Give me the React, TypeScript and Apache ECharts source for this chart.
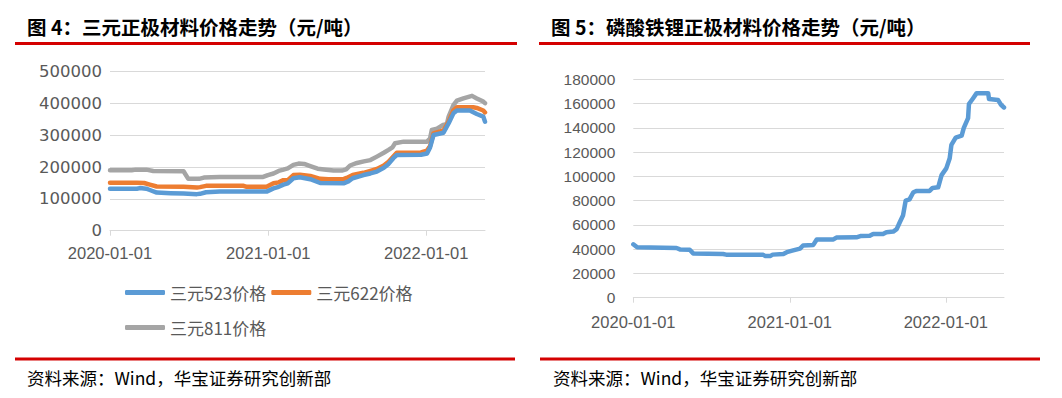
import React, { useEffect, useRef } from "react";
import * as echarts from "echarts";

// ---------- Data ----------
const yearTicks = ["2020-01-01", "2021-01-01", "2022-01-01"];
const axisMin = "2020-01-01";
const axisMax = "2022-05-17";

const leftTitle = "图 4：三元正极材料价格走势（元/吨）";
const rightTitle = "图 5：磷酸铁锂正极材料价格走势（元/吨）";
const sourceText = "资料来源：Wind，华宝证券研究创新部";

const seriesNames = ["三元523价格", "三元622价格", "三元811价格"];
const seriesColors = ["#5B9BD5", "#ED7D31", "#A5A5A5"];
const lfpColor = "#5B9BD5";

const ncm523Dates = [
  "2020-01-01", "2020-03-03", "2020-03-10", "2020-03-25", "2020-04-02", "2020-04-18", "2020-05-20",
  "2020-06-19", "2020-07-20", "2020-07-27", "2020-08-10", "2020-09-11", "2020-12-28", "2021-01-13",
  "2021-01-25", "2021-02-05", "2021-02-15", "2021-02-28", "2021-03-15", "2021-04-08", "2021-05-01",
  "2021-06-24", "2021-07-05", "2021-07-15", "2021-08-09", "2021-08-25", "2021-09-09", "2021-09-25",
  "2021-10-06", "2021-10-17", "2021-10-25", "2021-12-20", "2022-01-03", "2022-01-10", "2022-01-18",
  "2022-02-10", "2022-02-22", "2022-03-05", "2022-03-13", "2022-04-12", "2022-04-28", "2022-05-13",
  "2022-05-17",
];
const ncm523Values = [
  132000, 132000, 134000, 132000, 128000, 120000, 118000,
  117000, 115000, 116000, 121000, 123000, 123000, 133000,
  138000, 145000, 149000, 165000, 168000, 162000, 150000,
  149000, 155000, 165000, 175000, 180000, 186000, 198000,
  210000, 228000, 238000, 239000, 243000, 262000, 301000,
  308000, 338000, 369000, 378000, 378000, 367000, 359000,
  343000,
];

const ncm622Dates = [
  "2020-01-01", "2020-03-03", "2020-03-20", "2020-04-02", "2020-04-18", "2020-06-19", "2020-07-20",
  "2020-07-27", "2020-08-10", "2020-11-05", "2020-11-12", "2020-12-28", "2021-01-13", "2021-01-25",
  "2021-02-05", "2021-02-15", "2021-02-28", "2021-03-15", "2021-04-08", "2021-05-01", "2021-05-20",
  "2021-06-24", "2021-07-01", "2021-07-15", "2021-08-09", "2021-08-25", "2021-09-09", "2021-09-25",
  "2021-10-06", "2021-10-17", "2021-10-25", "2021-12-20", "2022-01-03", "2022-01-10", "2022-01-18",
  "2022-02-10", "2022-02-22", "2022-03-05", "2022-03-13", "2022-04-20", "2022-04-28", "2022-05-13",
  "2022-05-17",
];
const ncm622Values = [
  151000, 151000, 150000, 145000, 139000, 138000, 136000,
  137000, 141000, 141000, 138000, 138000, 149000, 152000,
  159000, 159000, 175000, 176000, 172000, 163000, 162000,
  162000, 166000, 175000, 182000, 188000, 194000, 205000,
  217000, 233000, 245000, 246000, 252000, 266000, 306000,
  315000, 343000, 378000, 388000, 388000, 386000, 378000,
  372000,
];

const ncm811Dates = [
  "2020-01-01", "2020-02-20", "2020-03-01", "2020-03-25", "2020-04-10", "2020-06-19", "2020-06-30",
  "2020-07-25", "2020-08-05", "2020-09-10", "2020-12-20", "2020-12-31", "2021-01-13", "2021-01-25",
  "2021-02-05", "2021-02-15", "2021-02-28", "2021-03-12", "2021-03-25", "2021-04-08", "2021-04-25",
  "2021-05-15", "2021-06-01", "2021-06-20", "2021-06-30", "2021-07-09", "2021-07-25", "2021-08-10",
  "2021-08-25", "2021-09-09", "2021-09-25", "2021-10-06", "2021-10-15", "2021-10-21", "2021-11-10",
  "2021-12-20", "2022-01-03", "2022-01-10", "2022-01-14", "2022-01-26", "2022-02-10", "2022-02-18",
  "2022-02-22", "2022-03-05", "2022-03-13", "2022-03-28", "2022-04-17", "2022-04-28", "2022-05-13",
  "2022-05-17",
];
const ncm811Values = [
  190000, 190000, 192000, 192000, 188000, 187000, 163000,
  163000, 167000, 169000, 169000, 175000, 180000, 188000,
  192000, 196000, 207000, 211000, 210000, 203000, 195000,
  192000, 189000, 189000, 193000, 205000, 213000, 218000,
  222000, 233000, 245000, 254000, 262000, 275000, 280000,
  280000, 280000, 290000, 317000, 321000, 333000, 336000,
  359000, 395000, 409000, 416000, 424000, 416000, 406000,
  401000,
];

const lfpDates = [
  "2020-01-01", "2020-01-10", "2020-04-11", "2020-04-19", "2020-05-12", "2020-05-20", "2020-07-29",
  "2020-08-05", "2020-10-31", "2020-11-05", "2020-11-16", "2020-11-22", "2020-12-17", "2020-12-25",
  "2021-01-09", "2021-01-25", "2021-02-01", "2021-02-25", "2021-03-05", "2021-04-13", "2021-04-20",
  "2021-06-06", "2021-06-15", "2021-07-07", "2021-07-15", "2021-08-07", "2021-08-15", "2021-08-31",
  "2021-09-08", "2021-09-15", "2021-09-23", "2021-09-29", "2021-10-08", "2021-10-17", "2021-10-25",
  "2021-11-24", "2021-12-01", "2021-12-14", "2021-12-22", "2022-01-02", "2022-01-10", "2022-01-14",
  "2022-01-24", "2022-02-07", "2022-02-12", "2022-02-22", "2022-02-24", "2022-03-05", "2022-03-14",
  "2022-04-10", "2022-04-12", "2022-05-03", "2022-05-10", "2022-05-17",
];
const lfpValues = [
  44000, 41500, 41000, 39800, 39500, 36500, 36000,
  35500, 35300, 34300, 34300, 35500, 36000, 37500,
  39000, 40500, 43000, 43500, 48000, 48000, 49600,
  49800, 50800, 51000, 52500, 52500, 54000, 54500,
  56500, 62000, 68000, 80000, 81000, 86900, 88000,
  88000, 90500, 91000, 101000, 106600, 115000, 126000,
  132000, 133600, 140000, 148000, 159600, 164000, 168600,
  168600, 163700, 163000, 159000, 156800,
];

const leftYTicks = { min: 0, max: 500000, interval: 100000 };
const rightYTicks = { min: 0, max: 180000, interval: 20000 };

// ---------- helpers ----------
const ts = (s: string) => {
  const [y, m, d] = s.split("-").map(Number);
  return new Date(y, m - 1, d).getTime();
};
const pad = (n: number) => (n < 10 ? "0" + n : "" + n);
const fmtDate = (v: number) => {
  const d = new Date(v);
  return `${d.getFullYear()}-${pad(d.getMonth() + 1)}-${pad(d.getDate())}`;
};
const zip = (dates: string[], vals: number[]) => dates.map((d, i) => [ts(d), vals[i]]);

export default function App() {
  const ref = useRef<HTMLDivElement>(null);

  useEffect(() => {
    if (!ref.current) return;
    const chart = echarts.init(ref.current, null, { renderer: "svg" });
    const tickVals = yearTicks.map(ts);
    const gridLine = "#D9D9D9";
    const labelColor = "#595959";

    const makeX = (gridIndex: number) => ({
      type: "value",
      gridIndex,
      min: ts(axisMin),
      max: ts(axisMax),
      axisLine: { show: true, onZero: false, lineStyle: { color: gridLine, width: 1 } },
      axisTick: { show: true, customValues: tickVals, length: 5, lineStyle: { color: gridLine } },
      axisLabel: {
        customValues: tickVals,
        formatter: (v: number) => fmtDate(v),
        color: labelColor,
        fontFamily: "Liberation Sans",
        fontSize: 16.5,
        margin: gridIndex === 0 ? 14 : 16,
        hideOverlap: false,
      },
      splitLine: { show: false },
    });

    const lineSeries = (name: string, color: string, data: number[][], xi: number, yi: number, z: number) => ({
      name,
      type: "line",
      xAxisIndex: xi,
      yAxisIndex: yi,
      data,
      showSymbol: false,
      symbol: "none",
      z,
      lineStyle: { color, width: 4.5, cap: "round", join: "round" },
      itemStyle: { color },
    });

    const legendBase = {
      orient: "horizontal",
      padding: 0,
      itemWidth: 40,
      itemHeight: 5,
      itemGap: 5,
      icon: "roundRect",
      textStyle: { color: labelColor, fontSize: 17, fontFamily: "Noto Sans CJK SC" },
    };

    chart.setOption({
      animation: false,
      backgroundColor: "#ffffff",
      grid: [
        { left: 110, top: 71.7, width: 375, height: 159, containLabel: false },
        { left: 633.3, top: 79.3, width: 370.7, height: 218.4, containLabel: false },
      ],
      xAxis: [makeX(0), makeX(1)],
      yAxis: [
        {
          type: "value",
          gridIndex: 0,
          ...leftYTicks,
          axisLine: { show: false },
          axisTick: { show: false },
          axisLabel: { color: labelColor, fontFamily: "DejaVu Sans", fontSize: 16.5, margin: 8, formatter: (v: number) => String(v) },
          splitLine: { show: true, lineStyle: { color: gridLine, width: 1 } },
        },
        {
          type: "value",
          gridIndex: 1,
          ...rightYTicks,
          axisLine: { show: false },
          axisTick: { show: false },
          axisLabel: { color: labelColor, fontFamily: "Liberation Sans", fontSize: 15.5, margin: 18, formatter: (v: number) => String(v) },
          splitLine: { show: true, lineStyle: { color: gridLine, width: 1 } },
        },
      ],
      legend: [
        { ...legendBase, left: 125, top: 284, data: [seriesNames[0], seriesNames[1]] },
        { ...legendBase, left: 125, top: 319, data: [seriesNames[2]] },
      ],
      series: [
        lineSeries(seriesNames[2], seriesColors[2], zip(ncm811Dates, ncm811Values), 0, 0, 2),
        lineSeries(seriesNames[1], seriesColors[1], zip(ncm622Dates, ncm622Values), 0, 0, 3),
        lineSeries(seriesNames[0], seriesColors[0], zip(ncm523Dates, ncm523Values), 0, 0, 4),
        lineSeries("磷酸铁锂价格", lfpColor, zip(lfpDates, lfpValues), 1, 1, 2),
      ],
      graphic: [
        {
          type: "text",
          x: 27,
          y: 26,
          style: { text: leftTitle, fill: "#000", fontSize: 19.5, fontWeight: "bold", fontFamily: "Noto Sans CJK SC", verticalAlign: "middle" },
        },
        {
          type: "text",
          x: 551,
          y: 26,
          style: { text: rightTitle, fill: "#000", fontSize: 19.5, fontWeight: "bold", fontFamily: "Noto Sans CJK SC", verticalAlign: "middle" },
        },
        { type: "rect", shape: { x: 15, y: 42, width: 502, height: 3 }, style: { fill: "#D40000" } },
        { type: "rect", shape: { x: 539, y: 42, width: 491, height: 3 }, style: { fill: "#D40000" } },
        { type: "rect", shape: { x: 15, y: 357.5, width: 500, height: 3 }, style: { fill: "#D40000" } },
        { type: "rect", shape: { x: 540, y: 357.5, width: 500, height: 3 }, style: { fill: "#D40000" } },
        {
          type: "text",
          x: 27,
          y: 377,
          style: { text: sourceText, fill: "#000", fontSize: 17.5, fontFamily: "Noto Sans CJK SC", verticalAlign: "middle" },
        },
        {
          type: "text",
          x: 553,
          y: 377,
          style: { text: sourceText, fill: "#000", fontSize: 17.5, fontFamily: "Noto Sans CJK SC", verticalAlign: "middle" },
        },
      ],
    });

    return () => chart.dispose();
  }, []);

  return (
    <div
      ref={ref}
      style={{ position: "absolute", left: 0, top: 0, width: 1062, height: 398, background: "#fff" }}
    />
  );
}
